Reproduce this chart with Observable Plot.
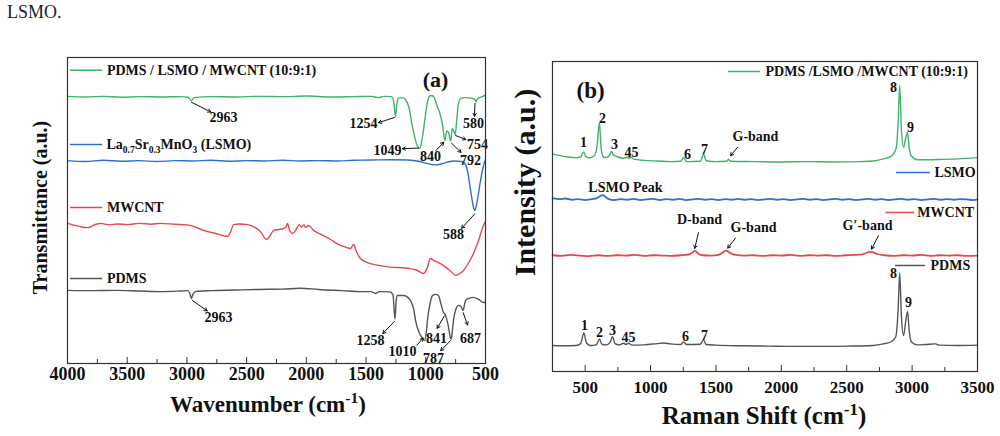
<!DOCTYPE html>
<html><head><meta charset="utf-8">
<script src="https://cdn.jsdelivr.net/npm/d3@7"></script>
<script src="https://cdn.jsdelivr.net/npm/@observablehq/plot@0.6"></script>
<style>
html,body{margin:0;padding:0;background:#fff;}
#fig{position:relative;width:1000px;height:436px;overflow:hidden;font-family:'Liberation Serif','Times New Roman',serif;}
#fig svg{position:absolute;top:0;}
#caption{position:absolute;left:7px;top:1px;font-size:18px;line-height:22px;color:#222;}
</style></head><body>
<div id="fig"><div id="caption">LSMO.</div></div>
<script>
// ---------- FTIR spectra (wavenumber cm-1, transmittance a.u., stacked) ----------
const ftirComposite = [[4000,87.3],[3850,87.1],[3700,87.3],[3550,87.0],[3400,87.2],[3200,87.1],[3050,87.2],[2990,87.0],[2963,85.9],[2940,86.9],[2800,87.2],[2600,87.1],[2400,87.3],[2200,87.2],[2000,87.4],[1800,87.1],[1600,87.2],[1450,87.3],[1400,86.9],[1350,87.3],[1290,87.2],[1270,86.0],[1254,80.7],[1242,85.0],[1225,86.8],[1190,86.8],[1165,86.0],[1140,83.5],[1115,78.0],[1090,73.5],[1070,71.0],[1049,70.3],[1030,73.5],[1010,79.0],[990,84.5],[970,87.3],[950,87.6],[930,87.0],[905,84.0],[880,81.5],[860,78.0],[840,72.9],[825,76.0],[810,75.5],[792,72.6],[778,76.8],[765,76.0],[754,74.8],[742,79.0],[728,84.5],[709,86.6],[680,86.9],[640,86.8],[610,86.6],[590,86.4],[580,85.5],[570,86.4],[550,86.9],[525,87.2],[500,87.8]];
const ftirLSMO = [[4000,66.3],[3850,66.0],[3700,66.4],[3550,66.1],[3400,66.3],[3250,66.0],[3100,66.3],[2950,66.2],[2800,66.4],[2650,66.1],[2500,66.3],[2350,66.2],[2200,66.4],[2050,66.2],[1900,66.3],[1750,66.2],[1600,66.4],[1450,66.5],[1300,66.6],[1150,66.5],[1050,66.0],[980,65.3],[920,64.9],[870,65.2],[820,65.8],[760,66.2],[700,66.0],[670,65.2],[650,62.8],[630,58.0],[610,53.0],[596,50.4],[588,50.0],[578,51.2],[562,54.8],[545,59.0],[525,63.2],[510,65.6],[500,66.6]];
const ftirMWCNT = [[4000,45.8],[3900,44.8],[3833,44.4],[3760,45.5],[3724,45.8],[3650,45.3],[3580,45.6],[3498,45.4],[3400,45.8],[3300,45.5],[3221,45.8],[3100,45.5],[3000,45.3],[2945,44.8],[2861,43.5],[2760,42.5],[2660,41.5],[2630,43.5],[2610,45.4],[2560,45.6],[2493,45.4],[2430,44.5],[2384,43.1],[2334,40.5],[2300,42.0],[2275,43.5],[2230,43.8],[2192,44.1],[2170,44.6],[2158,45.8],[2140,43.5],[2116,42.5],[2085,43.8],[2060,45.4],[2040,44.6],[2020,45.4],[2007,44.4],[1982,45.1],[1940,43.5],[1900,42.6],[1857,41.8],[1800,40.6],[1760,39.6],[1714,38.6],[1670,38.0],[1630,37.6],[1605,38.9],[1580,36.5],[1547,34.3],[1490,33.0],[1438,32.4],[1350,31.8],[1270,31.4],[1200,31.3],[1128,31.0],[1070,30.4],[1019,29.4],[990,31.0],[961,34.3],[930,33.6],[894,33.0],[850,32.0],[818,31.0],[780,29.8],[751,28.8],[720,29.3],[684,30.4],[640,33.0],[601,35.9],[560,40.0],[517,45.1],[500,46.5]];
const ftirPDMS = [[4000,23.9],[3800,23.8],[3600,23.9],[3400,23.7],[3221,23.5],[3050,23.7],[2990,23.8],[2975,22.8],[2963,21.2],[2950,22.6],[2930,23.5],[2800,23.8],[2600,24.0],[2400,24.2],[2200,24.3],[2049,24.6],[1900,24.2],[1700,23.8],[1547,23.5],[1460,23.5],[1420,22.9],[1390,23.5],[1300,23.4],[1275,22.5],[1258,14.5],[1248,20.5],[1237,22.2],[1186,22.2],[1150,21.6],[1128,20.6],[1100,17.5],[1086,14.1],[1050,9.6],[1027,8.3],[1010,7.5],[995,10.5],[986,14.1],[965,19.5],[944,22.2],[915,22.6],[894,22.2],[870,19.0],[852,16.7],[841,16.3],[825,14.5],[810,12.0],[795,8.6],[787,8.0],[778,10.5],[768,14.1],[750,17.5],[726,19.0],[705,18.6],[693,17.6],[687,17.3],[678,18.8],[667,20.6],[640,21.3],[600,21.6],[560,21.0],[517,19.9],[500,20.0]];
const ftirTicks = [500,1000,1500,2000,2500,3000,3500,4000];
const ftirMinorTicks = [750,1250,1750,2250,2750,3250,3750];

// ---------- Raman spectra (Raman shift cm-1, intensity a.u., stacked) ----------
const ramanComposite = [[250,70.2],[300,69.7],[365,69.2],[430,69.0],[465,69.2],[487,70.8],[505,69.3],[530,68.9],[570,69.6],[590,72.5],[609,80.3],[622,72.0],[640,69.2],[665,69.0],[690,70.1],[701,71.0],[715,69.9],[745,69.3],[790,68.8],[824,69.1],[835,68.7],[847,69.2],[870,68.5],[950,68.1],[1050,67.9],[1150,67.7],[1230,67.8],[1252,69.0],[1275,67.7],[1380,67.8],[1405,70.1],[1425,68.0],[1500,67.7],[1580,67.8],[1596,68.4],[1612,67.8],[1800,67.7],[2000,67.6],[2200,67.7],[2400,67.6],[2600,67.7],[2700,67.9],[2780,68.6],[2840,69.4],[2875,71.5],[2893,80.0],[2905,92.3],[2918,78.0],[2935,72.3],[2952,75.5],[2965,77.1],[2978,72.0],[2995,69.5],[3040,68.3],[3200,68.4],[3350,68.6],[3500,69.0]];
const ramanLSMO = [[250,55.9],[300,55.6],[350,55.8],[400,55.4],[450,55.6],[500,55.3],[550,55.6],[590,55.9],[615,56.6],[635,56.9],[655,56.3],[680,55.6],[720,55.3],[770,55.6],[820,55.4],[870,55.7],[920,55.3],[970,55.5],[1020,55.7],[1070,55.3],[1120,55.6],[1170,55.4],[1220,55.7],[1270,55.3],[1320,55.5],[1370,55.7],[1420,55.4],[1470,55.6],[1520,55.3],[1570,55.6],[1620,55.4],[1670,55.7],[1720,55.4],[1770,55.6],[1820,55.3],[1870,55.5],[1920,55.7],[1970,55.4],[2020,55.6],[2070,55.3],[2120,55.5],[2170,55.7],[2220,55.4],[2270,55.6],[2320,55.3],[2370,55.5],[2420,55.7],[2470,55.4],[2520,55.6],[2570,55.3],[2620,55.5],[2670,55.7],[2720,55.4],[2770,55.6],[2820,55.3],[2870,55.5],[2920,55.7],[2970,55.4],[3020,55.6],[3070,55.3],[3120,55.5],[3170,55.7],[3220,55.4],[3270,55.6],[3320,55.4],[3370,55.6],[3420,55.5],[3470,55.3],[3500,55.5]];
const ramanMWCNT = [[250,37.5],[320,37.3],[390,37.6],[460,37.4],[530,37.2],[600,37.5],[670,37.3],[740,37.5],[810,37.4],[880,37.6],[950,37.3],[1020,37.5],[1090,37.4],[1160,37.3],[1230,37.5],[1290,37.7],[1320,38.4],[1340,38.9],[1365,38.0],[1400,37.5],[1460,37.4],[1520,37.6],[1555,38.5],[1578,39.0],[1610,38.2],[1650,37.6],[1720,37.4],[1790,37.5],[1860,37.3],[1930,37.5],[2000,37.4],[2070,37.6],[2140,37.3],[2210,37.5],[2280,37.4],[2350,37.5],[2420,37.3],[2490,37.5],[2560,37.6],[2620,37.8],[2665,38.5],[2690,38.6],[2730,37.9],[2790,37.5],[2860,37.3],[2930,37.5],[3000,37.4],[3070,37.6],[3140,37.3],[3210,37.5],[3280,37.4],[3350,37.5],[3420,37.3],[3500,37.4]];
const ramanPDMS = [[250,8.4],[350,8.3],[430,8.4],[465,9.0],[490,12.4],[510,9.2],[540,8.4],[585,8.6],[609,10.4],[630,8.7],[660,8.6],[690,9.4],[709,11.2],[728,9.0],[760,8.6],[793,9.1],[810,8.7],[831,9.1],[860,8.5],[950,8.6],[1050,9.0],[1100,9.2],[1150,8.9],[1230,8.7],[1252,9.5],[1275,8.7],[1380,8.8],[1405,10.2],[1425,8.7],[1500,8.5],[1700,8.3],[1900,8.2],[2100,8.1],[2300,8.1],[2500,8.2],[2700,8.4],[2780,8.9],[2840,9.6],[2875,11.2],[2893,20.0],[2905,31.8],[2918,18.0],[2935,11.6],[2952,16.5],[2965,19.4],[2978,13.0],[2995,9.5],[3040,8.6],[3100,8.7],[3180,8.9],[3210,8.5],[3350,8.4],[3500,8.5]];
const ramanTicks = [500,1000,1500,2000,2500,3000,3500];
const ramanMinorTicks = [750,1250,1750,2250,2750,3250];

// ---------- series names ----------
const seriesNames = ["PDMS / LSMO / MWCNT (10:9:1)", "La0.7Sr0.3MnO3 (LSMO)", "MWCNT", "PDMS"];
const ramanNames = ["PDMS /LSMO /MWCNT (10:9:1)", "LSMO", "MWCNT", "PDMS"];

// ---------- annotation layout (data coordinates) ----------
const peakLabelsA = [
  {x:2694,y:80.4,t:"2963"},{x:1522,y:78.4,t:"1254"},{x:1321,y:69.6,t:"1049"},{x:961,y:67.6,t:"840"},
  {x:626,y:66.4,t:"792"},{x:567,y:71.6,t:"754"},{x:600,y:78.4,t:"580"},
  {x:768,y:42.2,t:"588"},
  {x:2736,y:15.0,t:"2963"},{x:1463,y:7.5,t:"1258"},{x:1195,y:3.9,t:"1010"},{x:910,y:8.2,t:"841"},
  {x:936,y:1.6,t:"787"},{x:626,y:8.2,t:"687"}
];
const arrowsA = [
  {x1:2963,y1:85.4,x2:2800,y2:82.2},{x1:1262,y1:80.4,x2:1395,y2:78.7},{x1:1060,y1:70.4,x2:1195,y2:70.2},
  {x1:915,y1:69.6,x2:850,y2:72.3},{x1:785,y1:72.0,x2:705,y2:69.0},{x1:750,y1:74.5,x2:665,y2:73.2},
  {x1:588,y1:85.0,x2:592,y2:80.8},
  {x1:592,y1:48.8,x2:700,y2:44.2},
  {x1:2955,y1:20.6,x2:2830,y2:17.2},{x1:1262,y1:13.8,x2:1360,y2:9.8},{x1:1075,y1:6.0,x2:1022,y2:8.3},
  {x1:845,y1:15.5,x2:905,y2:11.5},{x1:790,y1:7.6,x2:875,y2:4.2},{x1:687,y1:16.6,x2:650,y2:12.6}
];
const legendA = [{y:95.8},{y:71.6},{y:51.0},{y:27.8}];
const peakLabelsB = [
  {x:487,y:73.9,t:"1"},{x:632,y:81.6,t:"2"},{x:724,y:73.2,t:"3"},{x:854,y:70.6,t:"45"},{x:1282,y:70.0,t:"6"},
  {x:1412,y:71.6,t:"7"},{x:2858,y:91.6,t:"8"},{x:2988,y:78.7,t:"9"},{x:1802,y:75.8,t:"G-band"},
  {x:808,y:59.4,t:"LSMO Peak"},
  {x:1374,y:49.0,t:"D-band"},{x:1787,y:46.5,t:"G-band"},{x:2659,y:47.1,t:"G\u2032-band"},
  {x:495,y:14.8,t:"1"},{x:609,y:12.6,t:"2"},{x:709,y:13.2,t:"3"},{x:831,y:11.0,t:"45"},{x:1267,y:11.3,t:"6"},
  {x:1412,y:11.6,t:"7"},{x:2858,y:31.6,t:"8"},{x:2972,y:22.3,t:"9"}
];
const arrowsB = [
  {x1:1665,y1:72.3,x2:1611,y2:69.6},{x1:1366,y1:44.8,x2:1338,y2:39.7},
  {x1:1649,y1:43.0,x2:1590,y2:39.8},{x1:2743,y1:43.8,x2:2690,y2:39.5}
];
const legendB = [{x1:1596,x2:1841,y:96.8,tx:1879},{x1:2880,x2:3140,y:64.2,tx:3171},{x1:2800,x2:3020,y:51.3,tx:3040},{x1:2873,x2:3102,y:34.2,tx:3141}];

const COLORS = ["#3fb36b", "#2f6fd0", "#e5484d", "#555555"];
const SERIF = "'Liberation Serif','Times New Roman',serif";
const pt = {x: d => d[0], y: d => d[1]};
const fig = document.getElementById("fig");

// ---------- (a) FTIR ----------
const ftirSeries = [ftirComposite, ftirLSMO, ftirMWCNT, ftirPDMS];
const plotA = Plot.plot({
  width: 500, height: 436,
  marginLeft: 67, marginRight: 15, marginTop: 57, marginBottom: 73,
  style: {fontFamily: SERIF, fontWeight: "bold", color: "#111", background: "none", overflow: "visible"},
  x: {domain: [4000, 500]},
  y: {domain: [0, 100], axis: null},
  marks: [
    Plot.axisX({ticks: ftirMinorTicks, tickSize: -4, fill: "none", label: null, stroke: "#333"}),
    Plot.axisX({ticks: ftirTicks, tickSize: -6, fill: "none", label: null, stroke: "#333"}),
    Plot.axisX({ticks: ftirTicks, tickSize: 0, tickPadding: 4, tickFormat: "d", fontSize: 18, label: null}),
    ...ftirSeries.map((s, i) => Plot.line(s, {...pt, stroke: COLORS[i], strokeWidth: 1.4, curve: "monotone-x"})),
    ...legendA.map((l, i) => Plot.ruleY([l], {x1: 3975, x2: 3705, y: "y", stroke: COLORS[i], strokeWidth: 1.5})),
    Plot.text([0, 2, 3].map(i => ({y: legendA[i].y, t: seriesNames[i]})), {x: 3670, y: "y", text: "t", textAnchor: "start", fontSize: 14}),
    Plot.text(peakLabelsA, {x: "x", y: "y", text: "t", fontSize: 14}),
    Plot.arrow(arrowsA, {x1: "x1", y1: "y1", x2: "x2", y2: "y2", stroke: "#111", strokeWidth: 1, headLength: 5}),
    Plot.text(["(a)"], {x: 919, y: 92.5, fontSize: 22}),
    Plot.text(["Transmittance (a.u.)"], {frameAnchor: "left", textAnchor: "middle", rotate: -90, dx: -27, dy: -3, fontSize: 20}),
    Plot.frame({stroke: "#333", strokeWidth: 1.2})
  ]
});
plotA.style.left = "0px";
fig.appendChild(plotA);

// ---------- (b) Raman ----------
const ramanSeries = [ramanComposite, ramanLSMO, ramanMWCNT, ramanPDMS];
const plotB = Plot.plot({
  width: 500, height: 436,
  marginLeft: 52, marginRight: 23, marginTop: 61, marginBottom: 65,
  style: {fontFamily: SERIF, fontWeight: "bold", color: "#111", background: "none", overflow: "visible"},
  x: {domain: [250, 3500]},
  y: {domain: [0, 100], axis: null},
  marks: [
    Plot.axisX({ticks: ramanMinorTicks, tickSize: -4, fill: "none", label: null, stroke: "#333"}),
    Plot.axisX({ticks: ramanTicks, tickSize: -6, fill: "none", label: null, stroke: "#333"}),
    Plot.axisX({ticks: ramanTicks, tickSize: 0, tickPadding: 9, tickFormat: "d", fontSize: 17, label: null}),
    ...ramanSeries.map((s, i) => Plot.line(s, {...pt, stroke: COLORS[i], strokeWidth: i === 1 || i === 2 ? 1.8 : 1.4, curve: "monotone-x"})),
    ...legendB.map((l, i) => Plot.ruleY([l], {x1: "x1", x2: "x2", y: "y", stroke: COLORS[i], strokeWidth: 1.5})),
    Plot.text(legendB.map((l, i) => ({...l, t: ramanNames[i]})), {x: "tx", y: "y", text: "t", textAnchor: "start", fontSize: 14}),
    Plot.text(peakLabelsB, {x: "x", y: "y", text: "t", fontSize: 14}),
    Plot.arrow(arrowsB, {x1: "x1", y1: "y1", x2: "x2", y2: "y2", stroke: "#111", strokeWidth: 1, headLength: 5}),
    Plot.text(["(b)"], {x: 541, y: 90.6, fontSize: 23}),
    Plot.text(["Intensity (a.u.)"], {frameAnchor: "left", textAnchor: "middle", rotate: -90, dx: -27, dy: -34, fontSize: 30}),
    Plot.frame({stroke: "#333", strokeWidth: 1.2})
  ]
});
plotB.style.left = "500px";
fig.appendChild(plotB);

// ---------- texts with sub/superscripts ----------
function richText(svg, x, y, size, parts, anchor) {
  const t = d3.select(svg).append("text")
    .attr("x", x).attr("y", y).attr("font-size", size).attr("fill", "#111")
    .attr("text-anchor", anchor || "start");
  let shift = 0;
  for (const [str, kind] of parts) {
    const target = kind === "sub" ? size * 0.3 : kind === "sup" ? -size * 0.38 : 0;
    t.append("tspan").attr("dy", target - shift)
      .attr("font-size", kind ? size * 0.68 : size).text(str);
    shift = target;
  }
  return t;
}
const sxA = plotA.scale("x"), syA = plotA.scale("y");
richText(plotA, sxA.apply(3670), syA.apply(legendA[1].y) + 5, 14,
  [["La"], ["0.7", "sub"], ["Sr"], ["0.3", "sub"], ["MnO"], ["3", "sub"], [" (LSMO)"]]);
richText(plotA, 268, 412, 23, [["Wavenumber (cm"], ["-1", "sup"], [")"]], "middle");
richText(plotB, 264, 424, 25, [["Raman Shift (cm"], ["-1", "sup"], [")"]], "middle");
</script>
</body></html>
